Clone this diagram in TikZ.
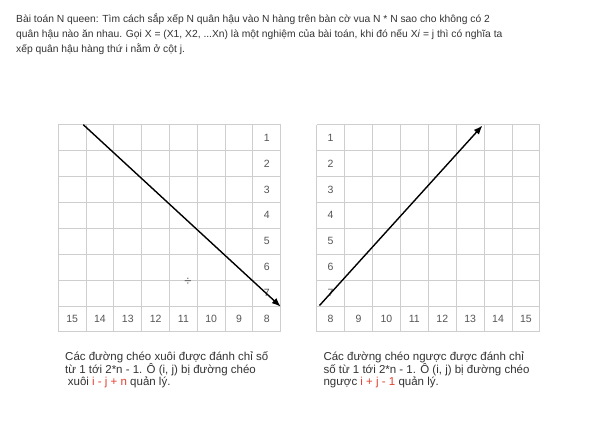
\documentclass[tikz,border=0pt]{standalone}
\usepackage{fontspec}
\setmainfont{Liberation Sans}
\definecolor{nqgrid}{RGB}{206,206,206}
\definecolor{nqtext}{RGB}{51,51,51}
\definecolor{nqnum}{RGB}{85,85,85}
\definecolor{nqred}{RGB}{226,64,48}
\usetikzlibrary{arrows.meta}

\begin{document}
\begin{tikzpicture}[x=1pt, y=-1pt,
  gridline/.style={nqgrid, line width=0.9pt},
  cellnum/.style={font=\fontsize{10.5}{12}\selectfont, text=nqnum, inner sep=0pt},
  bodytext/.style={font=\fontsize{10.3}{12}\selectfont, text=nqtext, anchor=base west, inner sep=0pt},
  captext/.style={bodytext, font=\fontsize{11.5}{13}\selectfont},
  diagarrow/.style={line width=1.4pt, -{Latex[length=9pt, width=7pt]}}]
  \useasboundingbox[fill=white] (0,0) rectangle (589,447);

  % Problem statement
  \node[bodytext] (intro1) at (16,22) {Bài toán N queen: Tìm cách sắp xếp N quân hậu vào N hàng trên bàn cờ vua N * N sao cho không có 2};
  \node[bodytext] (intro2) at (16,37) {quân hậu nào ăn nhau. Gọi X = (X1, X2, ...Xn) là một nghiệm của bài toán, khi đó nếu X\textit{i} = j thì có nghĩa ta};
  \node[bodytext] (intro3) at (16,52) {xếp quân hậu hàng thứ i nằm ở cột j.};

  % Left board
  \foreach \i in {0,...,8} {
    \draw[gridline] ({58.3+27.8*\i},124.7) -- ({58.3+27.8*\i},332);
    \draw[gridline] (58.3,{124.7+25.9*\i}) -- (280.7,{124.7+25.9*\i});
  }
  \foreach \r in {1,...,7}
    \node[cellnum] (lrow\r) at (266.8,{124.7+(\r-0.5)*25.9}) {\r};
  \foreach \c [evaluate=\c as \v using int(15-\c)] in {0,...,7}
    \node[cellnum] (lcol\v) at ({58.3+(\c+0.5)*27.8},319) {\v};
  \node[cellnum, font=\fontsize{13}{14}\selectfont] (ldiv) at (188,281.5) {÷};
  \coordinate (lstart) at (83.3,124.7);
  \coordinate (lend) at (280.7,306.7);
  \draw[diagarrow] (lstart) -- (lend);

  % Right board
  \foreach \i in {0,...,8} {
    \draw[gridline] ({316.7+27.9*\i},124.7) -- ({316.7+27.9*\i},332);
    \draw[gridline] (316.7,{124.7+25.9*\i}) -- (540,{124.7+25.9*\i});
  }
  \foreach \r in {1,...,7}
    \node[cellnum] (rrow\r) at (330.6,{124.7+(\r-0.5)*25.9}) {\r};
  \foreach \c [evaluate=\c as \v using int(8+\c)] in {0,...,7}
    \node[cellnum] (rcol\v) at ({316.7+(\c+0.5)*27.9},319) {\v};
  \coordinate (rstart) at (319.5,305.5);
  \coordinate (rend) at (482.5,125.5);
  \draw[diagarrow] (rstart) -- (rend);

  % Captions
  \node[captext] (lcap1) at (65,360.5) {Các đường chéo xuôi được đánh chỉ số};
  \node[captext] (lcap2) at (65,373) {từ 1 tới 2*n - 1. Ô (i, j) bị đường chéo};
  \node[captext] (lcap3) at (67.7,385.5) {xuôi \textcolor{nqred}{i - j + n} quản lý.};
  \node[captext] (rcap1) at (323.3,360.5) {Các đường chéo ngược được đánh chỉ};
  \node[captext] (rcap2) at (323.3,373) {số từ 1 tới 2*n - 1. Ô (i, j) bị đường chéo};
  \node[captext] (rcap3) at (323.3,385.5) {ngược \textcolor{nqred}{i + j - 1} quản lý.};
\end{tikzpicture}
\end{document}
